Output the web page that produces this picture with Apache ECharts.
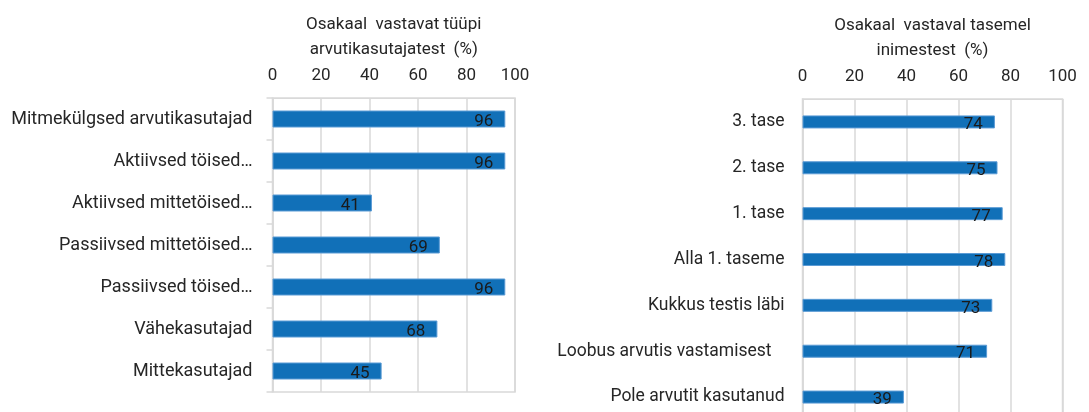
<!DOCTYPE html>
<html>
<head>
<meta charset="utf-8">
<script src="https://cdn.jsdelivr.net/npm/echarts@6/dist/echarts.min.js"></script>
<style>
  html, body { margin: 0; padding: 0; background: #fff; }
  #chart { width: 1089px; height: 412px; }
</style>
</head>
<body>
<div id="chart"></div>
<script>
// vasak joonis: arvutikasutajate tüübid
var leftCats = ['Mitmekülgsed arvutikasutajad', 'Aktiivsed töised…', 'Aktiivsed mittetöised…',
    'Passiivsed mittetöised…', 'Passiivsed töised…', 'Vähekasutajad', 'Mittekasutajad'];
var leftVals = [96, 96, 41, 69, 96, 68, 45];

// parem joonis: tasemed
var rightCats = ['3. tase', '2. tase', '1. tase', 'Alla 1. taseme', 'Kukkus testis läbi',
    'Loobus arvutis vastamisest   ', 'Pole arvutit kasutanud'];
var rightVals = [74, 75, 77, 78, 73, 71, 39];

var leftTitle = 'Osakaal  vastavat tüüpi\narvutikasutajatest  (%)';
var rightTitle = 'Osakaal  vastaval tasemel\ninimestest  (%)';

var FONT = 'Roboto';
var TXT = '#262626';
var GRIDC = '#d9d9d9';
var BLUE = '#1170b8';

function xAx(idx, title) {
    return {
        gridIndex: idx,
        type: 'value',
        position: 'top',
        min: 0,
        max: 100,
        interval: 20,
        name: title,
        nameLocation: 'middle',
        nameGap: 61,
        nameTextStyle: {
            fontFamily: FONT, fontSize: 17, color: TXT,
            lineHeight: 25, verticalAlign: 'middle'
        },
        axisLine: { show: true, lineStyle: { color: GRIDC } },
        axisTick: { show: false },
        axisLabel: { fontFamily: FONT, fontSize: 17, color: TXT, margin: 14 },
        splitLine: { show: true, lineStyle: { color: GRIDC, width: 1.5 } }
    };
}

function yAx(idx, cats, ticks, fs) {
    return {
        gridIndex: idx,
        type: 'category',
        inverse: true,
        data: cats,
        axisLine: { show: true, lineStyle: { color: GRIDC, width: 1.5 } },
        axisTick: { show: ticks, length: 6, lineStyle: { color: GRIDC, width: 1.5 } },
        axisLabel: { fontFamily: FONT, fontSize: fs, color: TXT, margin: ticks ? 20 : 18 }
    };
}

function barSeries(idx, vals, w) {
    return {
        type: 'bar',
        xAxisIndex: idx,
        yAxisIndex: idx,
        data: vals,
        barWidth: w,
        itemStyle: { color: BLUE, borderColor: '#5b9bd5', borderWidth: 1 },
        label: {
            show: true,
            position: 'insideRight',
            distance: 12,
            offset: [0, 3],
            fontFamily: FONT,
            fontSize: 17,
            color: '#1a1a1a'
        },
        silent: true
    };
}

var chart = echarts.init(document.getElementById('chart'), null, { renderer: 'canvas' });
chart.setOption({
    animation: false,
    grid: [
        { left: 272.5, right: 574, top: 98, bottom: 20, outerBoundsMode: 'none',
          show: true, borderColor: GRIDC, borderWidth: 1.5 },
        { left: 802.5, width: 260, top: 99, height: 321, outerBoundsMode: 'none',
          show: true, borderColor: GRIDC, borderWidth: 1.5 }
    ],
    xAxis: [xAx(0, leftTitle), xAx(1, rightTitle)],
    yAxis: [yAx(0, leftCats, true, 18), yAx(1, rightCats, false, 17.5)],
    series: [barSeries(0, leftVals, 17), barSeries(1, rightVals, 13)]
});
</script>
</body>
</html>
